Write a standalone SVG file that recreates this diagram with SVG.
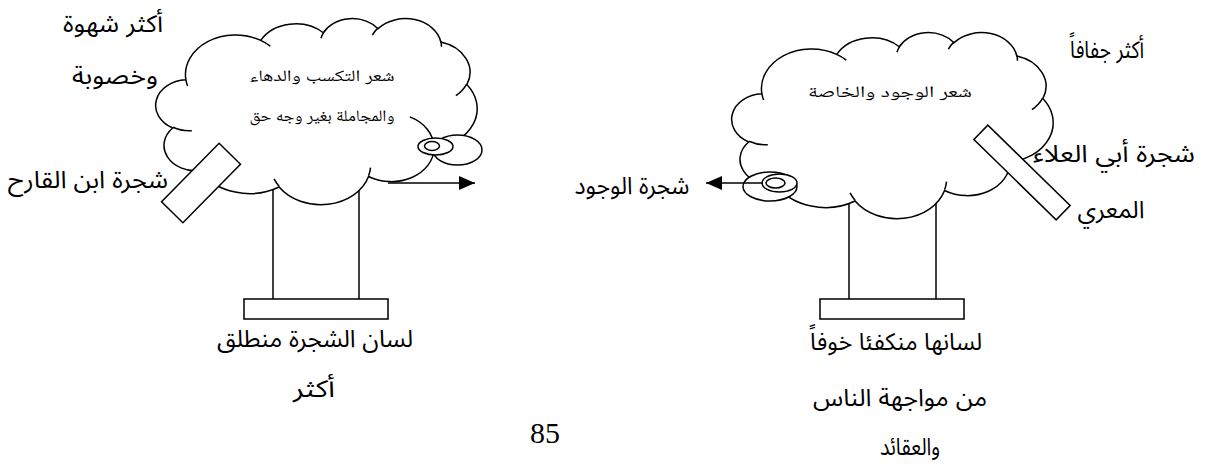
<svg xmlns="http://www.w3.org/2000/svg" xmlns:xlink="http://www.w3.org/1999/xlink" width="1207" height="464" viewBox="0 0 1207 464">
<style>
.ln{fill:none;stroke:#000;stroke-width:1.5}
.wf{fill:#fff;stroke:#000;stroke-width:1.5}
.cl{fill:#fff;stroke:#000;stroke-width:1.5;vector-effect:non-scaling-stroke}
.ci{fill:none;stroke:#000;stroke-width:1.5;vector-effect:non-scaling-stroke}
.lbl{font-family:'Liberation Sans','Noto Sans Arabic','DejaVu Sans',sans-serif;font-size:24px;fill:#000;text-anchor:middle}
.ctx{font-family:'Liberation Serif','Noto Naskh Arabic','DejaVu Serif',serif;font-size:16px;fill:#000;text-anchor:middle}
.num{font-family:'Liberation Serif',serif;font-size:30px;fill:#000;text-anchor:middle}
</style>
<defs>
<marker id="ah" viewBox="0 0 16 14" refX="16" refY="7" markerWidth="16" markerHeight="14" markerUnits="userSpaceOnUse" orient="auto">
<path d="M0,0 L16,7 L0,14 Z" fill="#000"/>
</marker>
<g id="cloud">
<path class="cl" d="M3900 14370 A6753 9190 0 0 1 14006 5203 A5333 7267 0 0 1 22458 3431 A4365 5945 0 0 1 29835 2478 A4857 6595 0 0 1 38321 5572 A5333 7273 0 0 1 41822 15456 A6775 9220 0 0 1 37408 30199 A5785 7867 0 0 1 28559 36809 A6752 9215 0 0 1 16484 39261 A7720 10543 0 0 1 5809 35472 A4360 5918 0 0 1 2118 25551 A4345 5945 0 0 1 3900 14370 Z"/>
<path class="ci" d="M4693 26177 A4345 5945 0 0 1 2159 25380 M6928 34899 A4360 5918 0 0 1 5820 35281 M16478 39090 A6752 9215 0 0 1 15810 37349 M28827 34751 A6752 9215 0 0 1 28561 36660 M34129 22954 A5785 7867 0 0 1 37381 30090 M41798 15354 A5333 7273 0 0 1 40350 18030 M38324 5426 A4857 6595 0 0 1 38400 6690 M29078 3952 A4857 6595 0 0 1 29819 2341 M22141 4720 A4365 5945 0 0 1 22500 3331 M14000 5192 A6753 9190 0 0 1 15299 6540 M4127 15789 A6753 9190 0 0 1 3900 14371"/>
</g>
</defs>
<rect width="1207" height="464" fill="#fff"/>

<g id="tree-ibn-alqarih">
<line class="ln" x1="273" y1="185" x2="273" y2="299"/>
<line class="ln" x1="359" y1="185" x2="359" y2="299"/>
<rect class="wf" x="244" y="299" width="144" height="20"/>
<use xlink:href="#cloud" transform="translate(157,18) scale(0.0074074,0.0043056)"/>
<ellipse class="wf" cx="457.5" cy="150" rx="24.5" ry="15"/>
<ellipse class="wf" cx="435.5" cy="146.5" rx="17.5" ry="8.5"/>
<ellipse class="wf" cx="432" cy="146" rx="7.5" ry="4.5"/>
<rect class="wf" x="-41" y="-15" width="82" height="30" transform="translate(201,183) rotate(-45.4)"/>
<text class="ctx" x="322" y="81" textLength="145" lengthAdjust="spacingAndGlyphs">شعر التكسب والدهاء</text>
<text class="ctx" x="322" y="121" textLength="145" lengthAdjust="spacingAndGlyphs">والمجاملة بغير وجه حق</text>
</g>

<g id="tree-abi-alala">
<line class="ln" x1="849" y1="195" x2="849" y2="299"/>
<line class="ln" x1="936" y1="195" x2="936" y2="299"/>
<rect class="wf" x="820" y="299" width="144" height="20"/>
<use xlink:href="#cloud" transform="translate(733,32) scale(0.0074074,0.0043056)"/>
<ellipse class="wf" cx="770" cy="186.5" rx="27" ry="14.5"/>
<ellipse class="wf" cx="779.5" cy="183" rx="17.5" ry="9"/>
<ellipse class="wf" cx="775.5" cy="183" rx="9.5" ry="5"/>
<rect class="wf" x="-57.5" y="-10" width="115" height="20" transform="translate(1022,172.5) rotate(44.3)"/>
<text class="ctx" x="890" y="97" textLength="164" lengthAdjust="spacingAndGlyphs">شعر الوجود والخاصة</text>
</g>

<g id="connectors">
<line class="ln" x1="388" y1="183" x2="475" y2="183" marker-end="url(#ah)"/>
<line class="ln" x1="763" y1="183" x2="706" y2="183" marker-end="url(#ah)"/>
</g>

<g id="labels">
<text class="lbl" x="113" y="32" textLength="100" lengthAdjust="spacingAndGlyphs">أكثر شهوة</text>
<text class="lbl" x="115" y="84" textLength="86" lengthAdjust="spacingAndGlyphs">وخصوبة</text>
<text class="lbl" x="88" y="188" textLength="160" lengthAdjust="spacingAndGlyphs">شجرة ابن القارح</text>
<text class="lbl" x="315" y="347" textLength="196" lengthAdjust="spacingAndGlyphs">لسان الشجرة منطلق</text>
<text class="lbl" x="314" y="397" textLength="42" lengthAdjust="spacingAndGlyphs">أكثر</text>
<text class="lbl" x="1107" y="58" textLength="74" lengthAdjust="spacingAndGlyphs">أكثر جفافاً</text>
<text class="lbl" x="1114" y="162" textLength="162" lengthAdjust="spacingAndGlyphs">شجرة أبي العلاء</text>
<text class="lbl" x="1111" y="218" textLength="67" lengthAdjust="spacingAndGlyphs">المعري</text>
<text class="lbl" x="632" y="194" textLength="115" lengthAdjust="spacingAndGlyphs">شجرة الوجود</text>
<text class="lbl" x="896" y="350" textLength="172" lengthAdjust="spacingAndGlyphs">لسانها منكفئا خوفاً</text>
<text class="lbl" x="900" y="406" textLength="174" lengthAdjust="spacingAndGlyphs">من مواجهة الناس</text>
<text class="lbl" x="910" y="455" textLength="60" lengthAdjust="spacingAndGlyphs">والعقائد</text>
<text class="num" x="545" y="443">85</text>
</g>
</svg>
